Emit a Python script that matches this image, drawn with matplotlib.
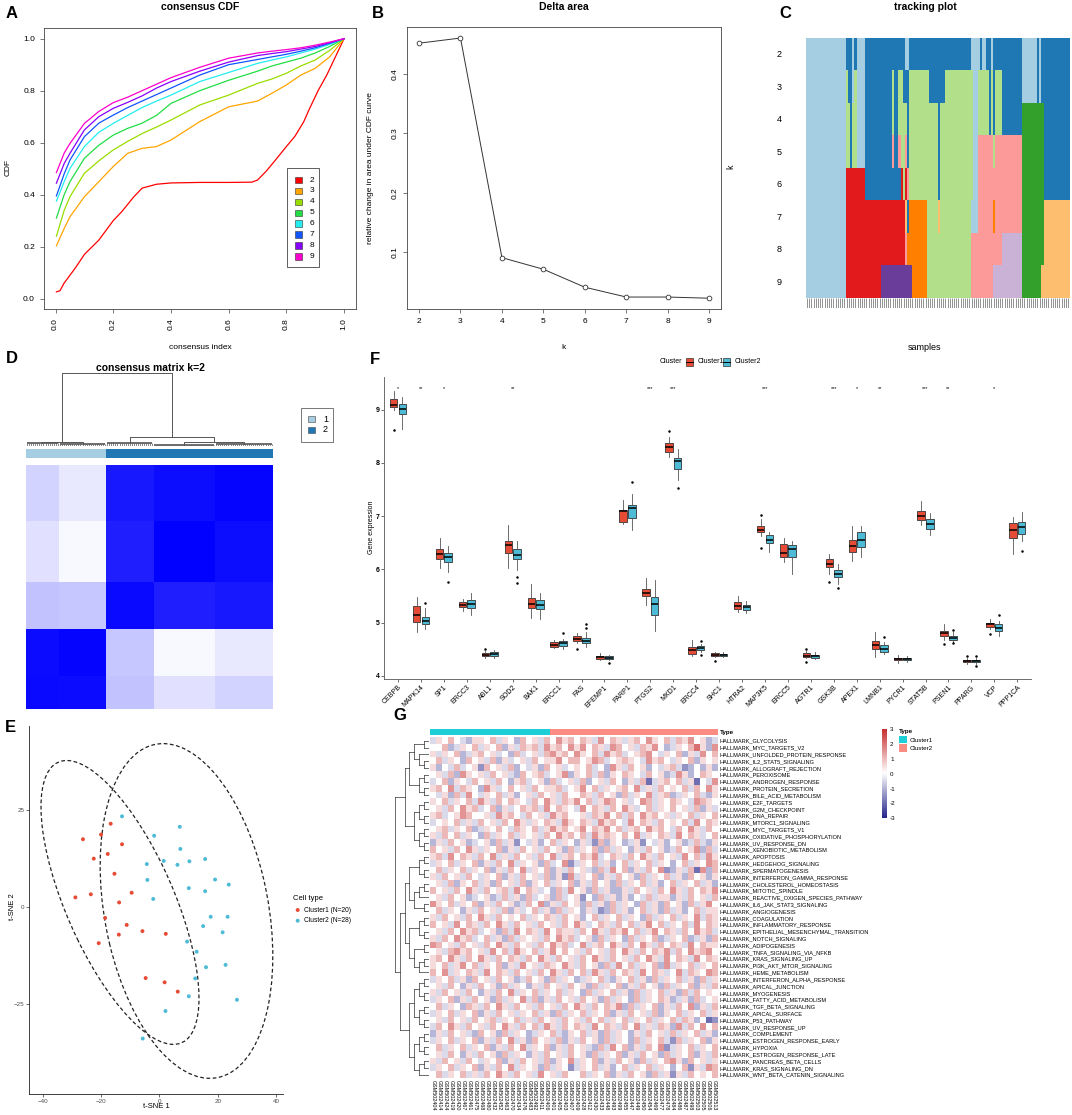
import re
import numpy as np
import matplotlib
matplotlib.use("Agg")
import matplotlib.pyplot as plt
from matplotlib.patches import Ellipse, Rectangle
from matplotlib.lines import Line2D
from matplotlib.colors import LinearSegmentedColormap, ListedColormap

plt.rcParams['font.family'] = ['Liberation Sans', 'DejaVu Sans']
plt.rcParams['axes.linewidth'] = 0.6

# ---------------- DATA ----------------
# A: consensus CDF
cdf_k = [2, 3, 4, 5, 6, 7, 8, 9]
cdf_colors = ['#FF0000', '#FFA500', '#99DD00', '#22DD44', '#22EEEE', '#1155FF', '#8800FF', '#FF00CC']
cdf_x_k2 = [0.003, 0.015, 0.03, 0.05, 0.07, 0.10, 0.15, 0.20, 0.23, 0.27, 0.30, 0.35, 0.40, 0.50,
            0.60, 0.68, 0.70, 0.73, 0.76, 0.80, 0.83, 0.86, 0.88, 0.91, 0.94, 0.97, 1.0]
cdf_y_k2 = [0.026, 0.03, 0.06, 0.09, 0.12, 0.17, 0.225, 0.30, 0.335, 0.39, 0.425, 0.44, 0.445, 0.447,
            0.447, 0.448, 0.456, 0.49, 0.53, 0.585, 0.625, 0.68, 0.73, 0.80, 0.86, 0.93, 1.0]
cdf_grid = [0.003, 0.03, 0.05, 0.1, 0.15, 0.2, 0.25, 0.3, 0.35, 0.4, 0.5, 0.6, 0.7, 0.75, 0.8, 0.85, 0.9, 0.95, 1.0]
cdf_y_k3 = [0.203, 0.27, 0.315, 0.392, 0.45, 0.508, 0.559, 0.578, 0.585, 0.61, 0.681, 0.738, 0.76, 0.79, 0.822, 0.86, 0.886, 0.93, 1.0]
cdf_y_k4 = [0.24, 0.34, 0.392, 0.482, 0.53, 0.572, 0.605, 0.635, 0.66, 0.687, 0.745, 0.783, 0.828, 0.845, 0.867, 0.895, 0.918, 0.955, 1.0]
cdf_y_k5 = [0.31, 0.40, 0.45, 0.54, 0.59, 0.629, 0.655, 0.675, 0.705, 0.751, 0.80, 0.84, 0.875, 0.895, 0.91, 0.925, 0.945, 0.97, 1.0]
cdf_y_k6 = [0.375, 0.45, 0.501, 0.585, 0.64, 0.674, 0.705, 0.735, 0.76, 0.783, 0.835, 0.87, 0.905, 0.918, 0.93, 0.945, 0.96, 0.978, 1.0]
cdf_y_k7 = [0.395, 0.48, 0.533, 0.623, 0.675, 0.706, 0.735, 0.76, 0.785, 0.81, 0.86, 0.90, 0.92, 0.93, 0.94, 0.952, 0.965, 0.982, 1.0]
cdf_y_k8 = [0.444, 0.52, 0.559, 0.649, 0.70, 0.732, 0.755, 0.78, 0.81, 0.835, 0.875, 0.91, 0.935, 0.943, 0.95, 0.96, 0.97, 0.985, 1.0]
cdf_y_k9 = [0.485, 0.56, 0.597, 0.674, 0.72, 0.754, 0.775, 0.80, 0.825, 0.85, 0.89, 0.925, 0.945, 0.952, 0.958, 0.965, 0.975, 0.987, 1.0]

# B: delta area
delta_k = [2, 3, 4, 5, 6, 7, 8, 9]
delta_val = [0.452, 0.4607, 0.0904, 0.0708, 0.0405, 0.024, 0.024, 0.022]

# C: tracking plot (run-length encoded cluster colours per k, 120 samples)
track_palette = {'LB': '#A6CEE3', 'DB': '#1F78B4', 'LG': '#B2DF8A', 'G': '#33A02C', 'PK': '#FB9A99',
                 'R': '#E31A1C', 'LO': '#FDBF6F', 'O': '#FF7F00', 'LP': '#CAB2D6', 'P': '#6A3D9A'}
track_runs = {
    2: "LB18 DB3 LB1 DB1 LB4 DB18 LB2 DB28 LB4 DB1 LB2 DB2 LB1 DB13 LB7 DB1 LB1 DB13",
    3: "LB18 LG1 DB2 LB1 LG1 LB4 DB12 LG1 DB2 LG2 DB3 LG9 DB7 LG13 LB2 LG5 DB1 LG1 DB1 LG3 DB9 LB7 DB1 LB1 DB13",
    4: "LB18 LG2 DB1 LG2 LB4 DB12 LG1 DB2 LG4 DB1 LG13 DB1 LG15 LB2 LG5 DB1 LG1 DB1 LG3 DB9 G10 DB12",
    5: "LB18 LG2 DB1 LG2 LB4 DB12 PK1 DB2 PK1 LG2 PK1 DB1 LG13 DB1 LG15 LB2 PK7 LG1 PK12 G10 DB12",
    6: "LB18 R9 DB16 R1 LG1 R1 PK1 LG13 DB1 LG15 LB2 PK20 G10 DB12",
    7: "LB18 R27 LO1 DB1 O8 LG5 LO1 LG14 LB3 PK7 O1 PK12 G10 LO12",
    8: "LB18 R27 PK1 O9 LG20 PK14 LP9 G10 LO12",
    9: "LB18 R16 P14 O7 LG20 PK10 LP13 G9 LO13",
}

# D: consensus matrix k=2 (block structure)
cm_group_sizes = [16, 23, 23, 30, 28]
cm_group_cluster = [1, 1, 2, 2, 2]
cm_block = [[0.96, 0.955, 0.24, 0.12, 0.17],
            [0.955, 0.98, 0.22, 0.03, 0.09],
            [0.24, 0.22, 0.96, 0.88, 0.90],
            [0.12, 0.03, 0.88, 0.99, 0.95],
            [0.17, 0.09, 0.90, 0.95, 0.98]]

# E: t-SNE
tsne1_x = [-16.7, -20.0, -26.2, -12.8, -17.7, -22.5, -15.4, -9.5, -23.5, -28.8, -13.8, -18.6, -11.2, -5.8,
           2.2, -13.9, -20.8, -4.7, 1.8, 6.3]
tsne1_y = [21.5, 18.7, 17.5, 16.2, 13.7, 12.5, 8.6, 3.7, 3.3, 2.5, 1.2, -2.8, -4.6, -6.2, -6.9, -7.1, -9.3,
           -18.3, -19.4, -21.8]
tsne2_x = [-12.8, 7.0, -1.8, 7.2, 15.7, 1.5, 10.3, 6.2, -4.3, 19.1, -4.1, 23.8, 10.1, 15.7, -2.1, 17.6, 23.4,
           15.0, 21.7, 9.5, 12.8, 16.0, 22.7, 12.3, 10.1, 26.6, 2.1, -5.7]
tsne2_y = [23.4, 20.7, 18.4, 15.0, 12.4, 11.9, 11.8, 10.9, 11.1, 7.1, 7.0, 5.8, 4.9, 4.1, 2.1, -2.5, -2.5,
           -4.9, -6.5, -8.9, -11.5, -15.5, -14.9, -18.4, -23.0, -23.9, -26.8, -33.9]
ellipse1 = dict(center=(-13.5, 1.2), width=84.2, height=34.8, angle=-57.2)
ellipse2 = dict(center=(9.3, -1.0), width=88.8, height=55.4, angle=-72.5)

# F: boxplots  [whislo, q1, med, q3, whishi]
genes = ['CEBPB', 'MAPK14', 'SP1', 'ERCC3', 'ABL1', 'SOD2', 'BAK1', 'ERCC1', 'FAS', 'EFEMP1', 'PARP1',
         'PTGS2', 'MXD1', 'ERCC4', 'SHC1', 'HTRA2', 'MAP3K5', 'ERCC5', 'AGTR1', 'GSK3B', 'APEX1', 'LMNB1',
         'PYCR1', 'STAT5B', 'PSEN1', 'PPARG', 'VCP', 'PPP1CA']
box_c1 = [[9.00, 9.05, 9.09, 9.20, 9.36], [4.83, 5.02, 5.15, 5.32, 5.48], [6.03, 6.20, 6.28, 6.38, 6.58],
          [5.22, 5.29, 5.33, 5.38, 5.45], [4.34, 4.38, 4.40, 4.43, 4.47], [6.03, 6.31, 6.45, 6.53, 6.83],
          [5.08, 5.27, 5.35, 5.47, 5.72], [4.52, 4.55, 4.58, 4.63, 4.67], [4.61, 4.65, 4.70, 4.75, 4.81],
          [4.30, 4.32, 4.35, 4.38, 4.42], [6.85, 6.89, 7.09, 7.11, 7.30], [5.33, 5.50, 5.56, 5.64, 5.83],
          [8.12, 8.21, 8.30, 8.37, 8.49], [4.38, 4.41, 4.48, 4.55, 4.67], [4.36, 4.38, 4.40, 4.42, 4.45],
          [5.20, 5.25, 5.31, 5.38, 5.50], [6.63, 6.71, 6.74, 6.82, 6.94], [6.13, 6.24, 6.31, 6.47, 6.58],
          [4.33, 4.36, 4.38, 4.42, 4.46], [5.91, 6.05, 6.11, 6.19, 6.28], [6.16, 6.32, 6.44, 6.56, 6.82],
          [4.36, 4.50, 4.58, 4.65, 4.83], [4.24, 4.30, 4.32, 4.34, 4.39], [6.83, 6.93, 7.00, 7.10, 7.28],
          [4.68, 4.75, 4.80, 4.85, 4.97], [4.22, 4.26, 4.28, 4.30, 4.34], [4.88, 4.92, 4.97, 5.00, 5.07],
          [6.29, 6.58, 6.74, 6.88, 6.99]]
out_c1 = [[8.61], [], [], [], [4.51], [], [], [], [4.51], [], [], [], [8.60], [], [4.28], [], [7.02, 6.40],
          [], [4.51, 4.26], [5.77], [], [], [], [], [4.59], [4.38], [4.78], []]
box_c2 = [[8.63, 8.91, 9.02, 9.11, 9.23], [4.88, 4.97, 5.03, 5.11, 5.27], [5.95, 6.13, 6.23, 6.30, 6.44],
          [5.14, 5.28, 5.34, 5.42, 5.55], [4.34, 4.38, 4.41, 4.45, 4.48], [5.99, 6.20, 6.27, 6.39, 6.53],
          [5.06, 5.25, 5.33, 5.42, 5.56], [4.50, 4.56, 4.61, 4.65, 4.70], [4.54, 4.61, 4.66, 4.71, 4.83],
          [4.29, 4.31, 4.34, 4.37, 4.40], [6.74, 6.96, 7.16, 7.20, 7.41], [4.84, 5.15, 5.34, 5.48, 5.80],
          [7.68, 7.89, 8.04, 8.10, 8.27], [4.45, 4.48, 4.53, 4.56, 4.60], [4.36, 4.38, 4.39, 4.41, 4.44],
          [5.18, 5.24, 5.29, 5.33, 5.40], [6.32, 6.49, 6.56, 6.64, 6.70], [5.92, 6.23, 6.38, 6.46, 6.53],
          [4.31, 4.34, 4.37, 4.40, 4.44], [5.72, 5.86, 5.92, 5.99, 6.10], [6.24, 6.42, 6.56, 6.70, 6.82],
          [4.41, 4.45, 4.51, 4.58, 4.64], [4.26, 4.29, 4.31, 4.33, 4.37], [6.65, 6.76, 6.86, 6.94, 7.05],
          [4.64, 4.68, 4.71, 4.75, 4.83], [4.22, 4.26, 4.27, 4.30, 4.34], [4.75, 4.85, 4.90, 4.97, 5.03],
          [6.53, 6.66, 6.80, 6.89, 7.08]]
out_c2 = [[], [5.36], [5.77], [], [], [5.86, 5.75], [], [4.80], [4.97, 4.90], [4.25], [7.65], [], [7.53],
          [4.65, 4.39], [], [], [], [], [], [5.65], [], [4.73], [], [], [4.87, 4.61], [4.38, 4.19], [5.15],
          [6.34]]
signif = ['*', '**', '*', '', '', '**', '', '', '', '', '', '***', '***', '', '', '', '***', '', '', '***',
          '*', '**', '', '***', '**', '', '*', '']

# G: GSVA heatmap
pathways = ['GLYCOLYSIS', 'MYC_TARGETS_V2', 'UNFOLDED_PROTEIN_RESPONSE', 'IL2_STAT5_SIGNALING',
            'ALLOGRAFT_REJECTION', 'PEROXISOME', 'ANDROGEN_RESPONSE', 'PROTEIN_SECRETION',
            'BILE_ACID_METABOLISM', 'E2F_TARGETS', 'G2M_CHECKPOINT', 'DNA_REPAIR', 'MTORC1_SIGNALING',
            'MYC_TARGETS_V1', 'OXIDATIVE_PHOSPHORYLATION', 'UV_RESPONSE_DN', 'XENOBIOTIC_METABOLISM',
            'APOPTOSIS', 'HEDGEHOG_SIGNALING', 'SPERMATOGENESIS', 'INTERFERON_GAMMA_RESPONSE',
            'CHOLESTEROL_HOMEOSTASIS', 'MITOTIC_SPINDLE', 'REACTIVE_OXIGEN_SPECIES_PATHWAY',
            'IL6_JAK_STAT3_SIGNALING', 'ANGIOGENESIS', 'COAGULATION', 'INFLAMMATORY_RESPONSE',
            'EPITHELIAL_MESENCHYMAL_TRANSITION', 'NOTCH_SIGNALING', 'ADIPOGENESIS', 'TNFA_SIGNALING_VIA_NFKB',
            'KRAS_SIGNALING_UP', 'PI3K_AKT_MTOR_SIGNALING', 'HEME_METABOLISM', 'INTERFERON_ALPHA_RESPONSE',
            'APICAL_JUNCTION', 'MYOGENESIS', 'FATTY_ACID_METABOLISM', 'TGF_BETA_SIGNALING', 'APICAL_SURFACE',
            'P53_PATHWAY', 'UV_RESPONSE_UP', 'COMPLEMENT', 'ESTROGEN_RESPONSE_EARLY', 'HYPOXIA',
            'ESTROGEN_RESPONSE_LATE', 'PANCREAS_BETA_CELLS', 'KRAS_SIGNALING_DN', 'WNT_BETA_CATENIN_SIGNALING']
samples_G = ['GSM502404', 'GSM502414', 'GSM502424', 'GSM502419', 'GSM502420', 'GSM502467', 'GSM502461',
             'GSM502475', 'GSM502468', 'GSM502480', 'GSM502432', 'GSM502452', 'GSM502463', 'GSM502470',
             'GSM502434', 'GSM502476', 'GSM502483', 'GSM502492', 'GSM502411', 'GSM502406',
             'GSM502401', 'GSM502405', 'GSM502403', 'GSM502407', 'GSM502409', 'GSM502428', 'GSM502412',
             'GSM502430', 'GSM502433', 'GSM502448', 'GSM502493', 'GSM502499', 'GSM502455', 'GSM502447',
             'GSM502449', 'GSM502450', 'GSM502454', 'GSM502469', 'GSM502477', 'GSM502478', 'GSM502484',
             'GSM502486', 'GSM502487', 'GSM502498', 'GSM502503', 'GSM502505', 'GSM502506', 'GSM502513']
sample_type = [1] * 20 + [2] * 28
# z-score codes: digit d -> (d-5)*0.5
hm_codes = [
    "46575436 65746537 56475867 57648576 46758657 47685634",
    "55734657 46573647 67486758 68576487 56476853 46579638",
    "64657346 75645374 56478675 86574867 45678546 57364857",
    "57465375 64736456 47566857 75687456 76548675 46573656",
    "63547456 27564735 46375645 65745386 47563546 74235363",
    "56473865 64756437 56745683 65747365 76547563 48635765",
    "45736547 56475367 45637456 47356475 36471467 57461548",
    "67584765 38645756 47566745 68574656 75846475 65747586",
    "54637485 46574635 64756475 57647563 74658467 34657436",
    "65746574 86475765 47586476 85746875 64587465 76548765",
    "56475867 45736457 67485765 48576475 86457465 75647364",
    "67456875 56486754 75648675 56476857 47586756 46574657",
    "45657464 75647586 46576486 57648675 48576475 65748576",
    "56746573 46575476 57468675 68576857 46758675 47586475",
    "64757465 37465746 56475867 57486765 75846576 48576457",
    "36475634 56374625 46357465 36427365 34625463 56347436",
    "75647586 46573647 56475637 46573746 53647563 47568374",
    "67485764 75846475 64758467 57684576 47586475 64857486",
    "46574657 36475846 56374582 46574635 74657465 35746587",
    "57465746 57364758 46573647 56437485 73647582 36471837",
    "64756475 46573647 56473628 46573647 56374657 46375636",
    "56473657 46375647 36574657 36475637 46574635 74657463",
    "75647586 47567485 76453748 56374633 64756475 86475768",
    "56475634 56347463 74563745 62537463 63547466 36475647",
    "86574657 36475634 75836475 63746374 65374637 56374685",
    "57465364 75647364 57463746 53642374 63574637 46357466",
    "64756475 86475657 46576475 63574657 46537465 74658476",
    "75648576 47586475 64756475 86457647 57468574 65748576",
    "56475867 45637485 76485766 47586476 85746857 64758674",
    "64758674 57463746 56475867 45637465 37465734 65734637",
    "87564756 47586475 64758674 58467586 47586475 76485766",
    "56478675 64857486 57468575 64756475 86475768 47586785",
    "67586475 86475764 75864756 47586475 64758648 57648576",
    "65746857 46573648 56476586 47563748 57465738 46574657",
    "75846576 48576475 64758647 57486475 76485764 58476587",
    "46574637 56475634 75637465 34657436 57463746 57463746",
    "56475364 75637465 36475647 56374657 36475637 46573647",
    "64756475 36475846 57465746 53746574 63746574 63747565",
    "46573647 56374658 47364756 47563746 53746576 34637456",
    "57465376 47586475 64756475 86475768 37465736 47583647",
    "46574657 36475646 57463746 57465736 47564736 57465746",
    "56475647 56746574 64756475 64757465 74657465 74763512",
    "47586475 64758647 57486475 76485764 75846476 38475857",
    "36475643 75637465 34657436 57463746 53647564 74657463",
    "46574657 36475846 37564736 47563746 53746574 27465736",
    "57465746 57364758 46573647 56437485 73647582 46574657",
    "56475364 75637465 36475647 56374657 36475637 46573647",
    "64756475 46573647 56473658 46573647 56374657 86375646",
    "46574657 36475846 56374652 46574635 74657465 35726487",
    "57465746 47586475 64856475 57465736 47563746 26475657",
]
# row dendrogram topology (leaf = row index)
row_tree = (
    ((((0, 1), (2, (3, 4))), ((5, 6), (7, 8))),
     (((9, 10), (11, 12)), ((13, 14), (15, 16)))),
    (((((17, 18), (19, 20)), (((21, 22), 23), (24, 25))),
      (((26, 27), (28, 29)), ((30, 31), ((32, 33), 34)))),
     ((((35, 36), (37, 38)), ((39, 40), (41, 42))),
      (((43, 44), (45, 46)), ((47, 48), 49))))
)

# ---------------- FIGURE ----------------
W, H = 1072, 1115
fig = plt.figure(figsize=(W / 100, H / 100), dpi=100)


def add_ax(x0, y0, x1, y1):
    return fig.add_axes([x0 / W, 1 - y1 / H, (x1 - x0) / W, (y1 - y0) / H])


def ftext(x, y, s, **kw):
    kw.setdefault('ha', 'center')
    kw.setdefault('va', 'center')
    fig.text(x / W, 1 - y / H, s, **kw)


def frect(x0, y0, x1, y1, **kw):
    fig.add_artist(Rectangle((x0 / W, 1 - y1 / H), (x1 - x0) / W, (y1 - y0) / H,
                             transform=fig.transFigure, **kw))


for lab, (x, y) in {'A': (11.7, 13.3), 'B': (378.3, 13.3), 'C': (785, 13.3), 'D': (11.7, 358),
                    'E': (10, 727), 'F': (375, 360), 'G': (400, 716)}.items():
    ftext(x, y, lab, fontsize=12, fontweight='bold')

# ---- A ----
axA = add_ax(44, 28.3, 355.6, 309)
axA.plot(cdf_x_k2, cdf_y_k2, color=cdf_colors[0], lw=0.9)
for ys, c in zip([cdf_y_k3, cdf_y_k4, cdf_y_k5, cdf_y_k6, cdf_y_k7, cdf_y_k8, cdf_y_k9], cdf_colors[1:]):
    axA.plot(cdf_grid, ys, color=c, lw=0.9)
axA.set_xlim(-0.04, 1.04)
axA.set_ylim(-0.04, 1.04)
axA.set_xticks([0, 0.2, 0.4, 0.6, 0.8, 1.0])
axA.set_xticklabels(['0.0', '0.2', '0.4', '0.6', '0.8', '1.0'], rotation=90)
axA.set_yticks([0, 0.2, 0.4, 0.6, 0.8, 1.0])
axA.set_yticklabels(['0.0', '0.2', '0.4', '0.6', '0.8', '1.0'])
axA.tick_params(labelsize=6, length=3, width=0.5, color='#444')
for s in axA.spines.values():
    s.set_color('#444')
ftext(200, 7, 'consensus CDF', fontsize=7.5, fontweight='bold')
ftext(200, 347.7, 'consensus index', fontsize=6)
ftext(8, 168, 'CDF', fontsize=6, rotation=90)
frect(287, 168.3, 319, 266.7, facecolor='white', edgecolor='#444', lw=0.6)
for i, (k, c) in enumerate(zip(cdf_k, cdf_colors)):
    yy = 180 + i * 10.9
    frect(295, yy - 3.2, 301.7, yy + 3.2, facecolor=c, edgecolor='#333', lw=0.4)
    ftext(311.7, yy, str(k), fontsize=6)

# ---- B ----
axB = add_ax(407.4, 27.3, 720.9, 308.6)
axB.plot(delta_k, delta_val, color='#333', lw=0.7, marker='o', markersize=3.4,
         markerfacecolor='white', markeredgecolor='#333', markeredgewidth=0.6)
axB.set_xlim(1.72, 9.28)
axB.set_ylim(0.0045, 0.4788)
axB.set_xticks(delta_k)
axB.set_yticks([0.1, 0.2, 0.3, 0.4])
axB.set_yticklabels(['0.1', '0.2', '0.3', '0.4'], rotation=90, va='center')
axB.tick_params(labelsize=6, length=3, width=0.5, color='#444')
for s in axB.spines.values():
    s.set_color('#444')
ftext(564, 7, 'Delta area', fontsize=7.5, fontweight='bold')
ftext(564, 347.7, 'k', fontsize=6)
ftext(370, 168, 'relative change in area under CDF curve', fontsize=6, rotation=90)

# ---- C ----
codes = list(track_palette.keys())
rows_c = []
for k in sorted(track_runs):
    row = []
    for code, n in re.findall(r'([A-Z]+)(\d+)', track_runs[k]):
        row += [codes.index(code)] * int(n)
    rows_c.append(row)
Ntr = len(rows_c[0])
axC = add_ax(806, 38.3, 1069.3, 298.3)
axC.imshow(np.array(rows_c), cmap=ListedColormap([track_palette[c] for c in codes]),
           vmin=-0.5, vmax=len(codes) - 0.5, aspect='auto', interpolation='nearest')
axC.axis('off')
for i, k in enumerate(sorted(track_runs)):
    ftext(779.3, 38.3 + (i + 0.5) * 32.5, str(k), fontsize=6.5)
ftext(731, 166.7, 'k', fontsize=6.5, rotation=90)
ftext(925, 7, 'tracking plot', fontsize=7.5, fontweight='bold')
ftext(925, 347.3, 'samples', fontsize=6.5)
axCh = add_ax(806, 298.3, 1069.3, 308.3)
axCh.vlines(np.arange(Ntr) + 0.5, 0, 1, color='#555', lw=0.45)
axCh.set_xlim(0, Ntr)
axCh.set_ylim(0, 1)
axCh.axis('off')

# ---- D ----
gsz = np.array(cm_group_sizes)
glab = np.repeat(np.arange(len(gsz)), gsz)
Ncm = len(glab)
cmat = np.array(cm_block)[glab[:, None], glab[None, :]]
axD = add_ax(26, 465, 272.7, 709.3)
axD.imshow(cmat, cmap=LinearSegmentedColormap.from_list('wb', ['white', '#0000FF']), vmin=0, vmax=1,
           origin='lower', aspect='auto', interpolation='nearest')
axD.axis('off')
axDc = add_ax(26, 449.3, 272.7, 458.3)
clus = np.array(cm_group_cluster)[glab]
axDc.imshow(clus[None, :], cmap=ListedColormap(['#A6CEE3', '#1F78B4']), vmin=0.5, vmax=2.5,
            aspect='auto', interpolation='nearest')
axDc.axis('off')
ftext(150, 368.3, 'consensus matrix k=2', fontsize=7.5, fontweight='bold')

# dendrogram: average linkage on blocks
axDd = add_ax(26, 373.3, 272.7, 446)
starts = np.concatenate([[0], np.cumsum(gsz)[:-1]])
dcol = '#555'
nodes = []
for g in range(len(gsz)):
    h = 1 - cm_block[g][g]
    xs = np.arange(starts[g], starts[g] + gsz[g]) + 0.5
    axDd.vlines(xs, 0, h, color=dcol, lw=0.5)
    axDd.hlines(h, xs[0], xs[-1], color=dcol, lw=1.2)
    nodes.append({'x': xs.mean(), 'h': h, 'n': gsz[g], 'members': [g]})
dist = 1 - np.array(cm_block)
while len(nodes) > 1:
    best = None
    for i in range(len(nodes)):
        for j in range(i + 1, len(nodes)):
            a, b = nodes[i], nodes[j]
            num = sum(dist[p, q] * gsz[p] * gsz[q] for p in a['members'] for q in b['members'])
            d = num / (a['n'] * b['n'])
            if best is None or d < best[0]:
                best = (d, i, j)
    d, i, j = best
    a, b = nodes[i], nodes[j]
    axDd.plot([a['x'], a['x'], b['x'], b['x']], [a['h'], d, d, b['h']], color=dcol, lw=0.7)
    new = {'x': (a['x'] + b['x']) / 2, 'h': d, 'n': a['n'] + b['n'], 'members': a['members'] + b['members']}
    nodes = [nd for t, nd in enumerate(nodes) if t not in (i, j)] + [new]
axDd.set_xlim(0, Ncm)
axDd.set_ylim(0, nodes[0]['h'])
axDd.axis('off')
frect(301, 408.3, 333.3, 441.7, facecolor='white', edgecolor='#777', lw=0.7)
frect(308, 416, 315, 422, facecolor='#A6CEE3', edgecolor='#444', lw=0.4)
frect(308, 427, 315, 433, facecolor='#1F78B4', edgecolor='#444', lw=0.4)
ftext(325.5, 419, '1', fontsize=6.5)
ftext(325.5, 430, '2', fontsize=6.5)

# ---- E ----
red = '#E64B35'
cyan = '#4DBBD5'
axE = add_ax(29.3, 726, 283.3, 1094)
for e in (ellipse1, ellipse2):
    axE.add_patch(Ellipse(e['center'], e['width'], e['height'], angle=e['angle'], fill=False,
                          edgecolor='#222', lw=0.9, linestyle=(0, (3, 2))))
axE.scatter(tsne1_x, tsne1_y, s=8, color=red, edgecolors='none', zorder=3)
axE.scatter(tsne2_x, tsne2_y, s=8, color=cyan, edgecolors='none', zorder=3)
axE.set_xlim(-44.6, 42.5)
axE.set_ylim(-48.2, 46.7)
axE.set_xticks([-40, -20, 0, 20, 40])
axE.set_yticks([-25, 0, 25])
axE.tick_params(labelsize=4.5, length=2, width=0.5, color='#333', labelcolor='#4D4D4D', pad=1.5)
for s in ['top', 'right']:
    axE.spines[s].set_visible(False)
for s in ['left', 'bottom']:
    axE.spines[s].set_color('#222')
ftext(156.7, 1106.7, 't-SNE 1', fontsize=5.5)
ftext(12.3, 906.7, 't-SNE 2', fontsize=5.5, rotation=90)
ftext(293, 898, 'Cell type', fontsize=5.5, ha='left')
axLeg = add_ax(293, 904, 303, 927)
axLeg.set_xlim(0, 1)
axLeg.set_ylim(927, 904)
axLeg.scatter([0.47, 0.47], [910, 920.7], s=8, color=[red, cyan], edgecolors='none')
axLeg.axis('off')
ftext(304, 910, 'Cluster1 (N=20)', fontsize=4.8, ha='left')
ftext(304, 920.7, 'Cluster2 (N=28)', fontsize=4.8, ha='left')

# ---- F ----
axF = add_ax(384.3, 376.7, 1031, 679)
pos = np.arange(1, len(genes) + 1)


def mkstats(boxes, outs):
    return [dict(whislo=b[0], q1=b[1], med=b[2], q3=b[3], whishi=b[4], fliers=o) for b, o in zip(boxes, outs)]


for boxes, outs, col, off in [(box_c1, out_c1, red, -0.19), (box_c2, out_c2, cyan, 0.19)]:
    axF.bxp(mkstats(boxes, outs), positions=pos + off, widths=0.33, patch_artist=True, showcaps=False,
            boxprops=dict(facecolor=col, edgecolor='#333', lw=0.6),
            medianprops=dict(color='black', lw=1.1),
            whiskerprops=dict(color='#555', lw=0.6),
            flierprops=dict(marker='o', markersize=1.8, markerfacecolor='black', markeredgecolor='none'))
for p, s in zip(pos, signif):
    if s:
        axF.text(p, 9.39, s, ha='center', va='center', fontsize=4)
axF.set_xlim(0.4, len(genes) + 0.6)
axF.set_ylim(3.94, 9.62)
axF.set_xticks(pos)
axF.set_xticklabels(genes, rotation=45, ha='right', rotation_mode='anchor', fontsize=5)
axF.set_yticks([4, 5, 6, 7, 8, 9])
axF.set_yticklabels(['4', '5', '6', '7', '8', '9'], fontsize=5, fontweight='bold')
axF.tick_params(length=2, width=0.5, color='#333', pad=1.5)
for s in ['top', 'right']:
    axF.spines[s].set_visible(False)
for s in ['left', 'bottom']:
    axF.spines[s].set_color('#555')
ftext(371.7, 527.7, 'Gene expression', fontsize=5, rotation=90)
ftext(660, 361.7, 'Cluster', fontsize=5, ha='left')
for x0, col, lab in [(686, red, 'Cluster1'), (723, cyan, 'Cluster2')]:
    frect(x0, 358, x0 + 7.3, 365.5, facecolor=col, edgecolor='#333', lw=0.5)
    fig.add_artist(Line2D([x0 / W, (x0 + 7.3) / W], [1 - 361.7 / H, 1 - 361.7 / H], color='black',
                          lw=0.7, transform=fig.transFigure))
    ftext(x0 + 11.5, 361.7, lab, fontsize=5, ha='left')

# ---- G ----
hm = []
for s in hm_codes:
    s = (s.replace(' ', '') + '5' * 48)[:48]
    hm.append([(int(ch) - 5) * 0.5 for ch in s])
hm = np.array(hm)
cmapG = LinearSegmentedColormap.from_list('nwr', ['#26268C', 'white', '#C62B2B'])
axG = add_ax(430, 737.3, 717.3, 1078.1)
axG.imshow(hm, cmap=cmapG, vmin=-3, vmax=3, aspect='auto', interpolation='nearest')
axG.set_yticks(range(len(pathways)))
axG.set_yticklabels(['HALLMARK_' + p for p in pathways], fontsize=4.1)
axG.yaxis.tick_right()
axG.set_xticks(range(len(samples_G)))
axG.set_xticklabels(samples_G, rotation=270, fontsize=3.9)
axG.tick_params(length=0, pad=1.5)
for s in axG.spines.values():
    s.set_visible(False)
axGt = add_ax(430, 729.3, 717.3, 735.3)
type_cols = ['#1ECFD8', '#FA8C84']
axGt.imshow(np.array(sample_type)[None, :], cmap=ListedColormap(type_cols), vmin=0.5, vmax=2.5,
            aspect='auto', interpolation='nearest')
axGt.axis('off')
ftext(720, 732.3, 'Type', fontsize=4.5, fontweight='bold', ha='left')

axGd = add_ax(395, 737.3, 428.5, 1078.1)


def draw_tree(node):
    if isinstance(node, int):
        return node, 0
    res = [draw_tree(c) for c in node]
    ys = [r[0] for r in res]
    hs = [r[1] for r in res]
    h = max(hs) + 1
    for yc, hc in res:
        axGd.plot([hc, h], [yc, yc], color='#333', lw=0.5)
    axGd.plot([h, h], [min(ys), max(ys)], color='#333', lw=0.5)
    return (min(ys) + max(ys)) / 2, h


_, root_h = draw_tree(row_tree)
axGd.set_xlim(root_h, 0)
axGd.set_ylim(len(pathways) - 0.5, -0.5)
axGd.axis('off')

axCB = add_ax(882.3, 729, 887.3, 818.3)
axCB.imshow(np.linspace(3, -3, 200)[:, None], cmap=cmapG, vmin=-3, vmax=3, aspect='auto',
            extent=(0, 1, -3, 3))
axCB.set_xticks([])
axCB.yaxis.tick_right()
axCB.set_yticks([3, 2, 1, 0, -1, -2, -3])
axCB.set_yticklabels(['3', '2', '1', '0', '-1', '-2', '-3'], fontsize=4.5)
axCB.tick_params(length=0, pad=2)
for s in axCB.spines.values():
    s.set_visible(False)
ftext(899.3, 731, 'Type', fontsize=4.5, fontweight='bold', ha='left')
frect(899.3, 736, 907.3, 743.3, facecolor=type_cols[0], edgecolor='none')
frect(899.3, 744.3, 907.3, 752.3, facecolor=type_cols[1], edgecolor='none')
ftext(909.3, 740, 'Cluster1', fontsize=4.5, ha='left')
ftext(909.3, 748.3, 'Cluster2', fontsize=4.5, ha='left')

fig.savefig('out.png', dpi=100)
